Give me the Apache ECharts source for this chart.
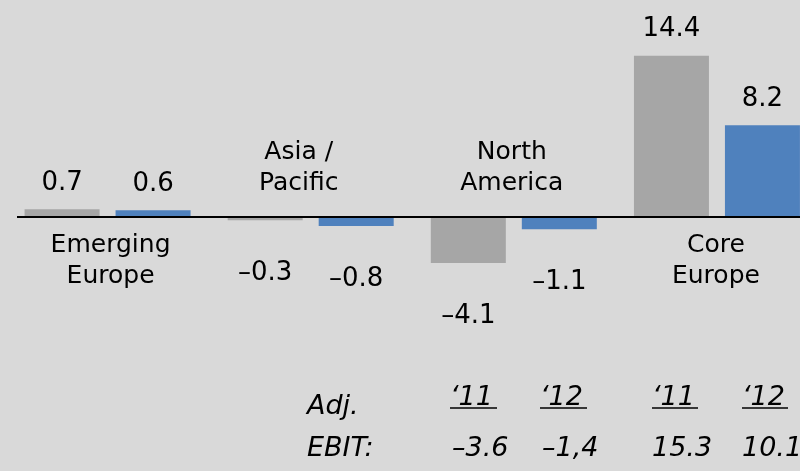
<!DOCTYPE html>
<html>
<head>
<meta charset="utf-8">
<script src="https://cdn.jsdelivr.net/npm/echarts@6/dist/echarts.min.js"></script>
<style>
html,body{margin:0;padding:0;background:#d9d9d9;}
#chart{width:800px;height:471px;}
</style>
</head>
<body>
<div id="chart"></div>
<script>
const categories = ['Emerging\nEurope', 'Asia /\nPacific', 'North\nAmerica', 'Core\nEurope'];
const values2011 = [0.7, -0.3, -4.1, 14.4];
const values2012 = [0.6, -0.8, -1.1, 8.2];
const ebitHeaders = ['‘11', '‘12', '‘11', '‘12'];
const ebitValues = ['–3.6', '–1,4', '15.3', '10.1'];

const FONT = 'DejaVu Sans';
const fmt = v => String(v).replace('-', '–');

const BAR_W = 75, BAR_GAP_PX = 16;

function items(vals) {
  return vals.map(v => ({
    value: v,
    label: { position: v >= 0 ? 'top' : 'bottom', distance: v >= 0 ? 13 : 40 }
  }));
}
const isPos = i => values2011[i] + values2012[i] >= 0;
// markPoint sits at the first bar centre; shift to group centre
const groupShift = (BAR_W + BAR_GAP_PX) / 2;
const catOffsetX = [3, -12, -2, -1];

const catMarks = categories.map((c, i) => ({
  coord: [i, 0],
  value: c,
  label: { offset: [groupShift + catOffsetX[i], isPos(i) ? 44 : -49] }
}));

const chart = echarts.init(document.getElementById('chart'));

// bottom annotation layout
const headerX = [450, 540, 652, 742];
const headerW = [47, 47, 46, 46];
const gfx = [
  { type: 'text', left: 307, top: 393, style: { text: 'Adj.', font: 'italic 27px "DejaVu Sans"', fill: '#000' } },
  { type: 'text', left: 307, top: 435, style: { text: 'EBIT:', font: 'italic 27px "DejaVu Sans"', fill: '#000' } }
];
ebitHeaders.forEach((t, i) => {
  gfx.push({ type: 'text', left: headerX[i], top: 384, style: { text: t, font: 'italic 27px "DejaVu Sans"', fill: '#000' } });
  gfx.push({ type: 'line', shape: { x1: headerX[i], y1: 408, x2: headerX[i] + headerW[i], y2: 408 }, style: { stroke: '#000', lineWidth: 1.5 } });
  gfx.push({ type: 'text', left: headerX[i] + (i < 2 ? 2 : 0), top: 435, style: { text: ebitValues[i], font: 'italic 27px "DejaVu Sans"', fill: '#000' } });
});

chart.setOption({
  backgroundColor: '#d9d9d9',
  animation: false,
  grid: { left: 6, right: -18.5, top: 4.2, bottom: 7.6, containLabel: false, outerBoundsMode: 'none' },
  xAxis: {
    type: 'category', data: categories,
    axisLine: { show: false },
    axisTick: { show: false },
    axisLabel: { show: false }
  },
  yAxis: { type: 'value', min: -22, max: 19, show: false, splitLine: { show: false } },
  series: [
    {
      type: 'bar', name: '2011', data: items(values2011), barWidth: BAR_W, barGap: (BAR_GAP_PX / BAR_W * 100) + '%',
      itemStyle: { color: '#a6a6a6' },
      label: { show: true, fontSize: 26, color: '#000', fontFamily: FONT, formatter: p => fmt(p.value) },
      markPoint: {
        symbol: 'circle', symbolSize: 1,
        itemStyle: { color: 'rgba(0,0,0,0)' },
        label: {
          show: true, position: 'inside', color: '#000', fontSize: 25, lineHeight: 31,
          fontFamily: FONT, align: 'center', formatter: p => p.value
        },
        data: catMarks
      },
      markLine: {
        silent: true, symbol: 'none', label: { show: false },
        lineStyle: { color: '#000', width: 2, type: 'solid' },
        data: [[{ yAxis: 0, x: 17 }, { yAxis: 0, x: 800 }]]
      }
    },
    {
      type: 'bar', name: '2012', data: items(values2012), barWidth: BAR_W, barGap: (BAR_GAP_PX / BAR_W * 100) + '%',
      itemStyle: { color: '#4f81bd' },
      label: { show: true, fontSize: 26, color: '#000', fontFamily: FONT, formatter: p => fmt(p.value) }
    }
  ],
  graphic: gfx
});
</script>
</body>
</html>
